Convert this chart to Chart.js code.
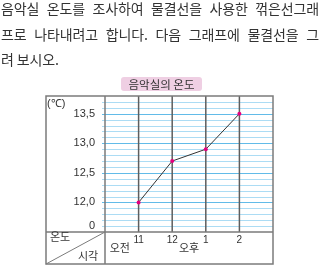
<!DOCTYPE html>
<html>
<head>
<meta charset="utf-8">
<script src="https://cdn.jsdelivr.net/npm/chart.js@4"></script>
<style>
html, body { margin: 0; padding: 0; background: #fff; width: 320px; height: 266px; overflow: hidden; }
#wrap { position: relative; width: 320px; height: 266px; }
canvas { position: absolute; left: 0; top: 0; }
.q { position: absolute; left: 1px; width: 318px; font-size: 14px; font-family: "Noto Sans CJK KR", sans-serif;
     color: #333; line-height: 17px; letter-spacing: -0.15px; }
.j { text-align: justify; text-align-last: justify; }
</style>
</head>
<body>
<div id="wrap">
  <canvas id="c" width="320" height="266"></canvas>
  <div class="q j" style="top:0px">음악실 온도를 조사하여 물결선을 사용한 꺾은선그래</div>
  <div class="q j" style="top:26px">프로 나타내려고 합니다. 다음 그래프에 물결선을 그</div>
  <div class="q" style="top:51px">려 보시오.</div>
</div>
<script>
// Hourly temperature of the music room
const times = ['11', '12', '1', '2'];
const periods = ['오전', '오후'];
const temps = [12.0, 12.7, 12.9, 13.5];
const yTickValues = [11.6, 12.0, 12.5, 13.0, 13.5];
const yTickLabels = ['0', '12,0', '12,5', '13,0', '13,5'];
const chartTitle = '음악실의 온도';
const unitLabel = '(℃)';
const rowHeader = ['온도', '시각'];

const yMin = 11.5, yMax = 13.8;
const majorBlue = '#62bbe8';
const minorBlue = '#acdcf4';
const frameGray = '#7b7b7b';
const columnGray = '#5e5e5e';

function labelFor(v) {
  const i = yTickValues.findIndex(t => Math.abs(t - v) < 1e-6);
  return i >= 0 ? yTickLabels[i] : '';
}

// Graph paper: 0.1° rules in blue, hour columns in gray on top
const paperPlugin = {
  id: 'paper',
  beforeDatasetsDraw(chart) {
    const { ctx, chartArea: a, scales: { x, y } } = chart;
    ctx.save();
    ctx.lineWidth = 1;
    y.ticks.forEach(t => {
      const v = t.value;
      if (v <= yMin + 1e-6 || v >= yMax - 1e-6) return;
      const r = Math.round(v * 10);
      ctx.strokeStyle = (r % 5 === 0 && v >= 12) ? majorBlue : minorBlue;
      const py = Math.round(y.getPixelForValue(v)) + 0.5;
      ctx.beginPath();
      ctx.moveTo(a.left - 3, py); ctx.lineTo(a.right, py);
      ctx.stroke();
    });
    ctx.strokeStyle = columnGray;
    ctx.lineWidth = 1.5;
    times.forEach((_, i) => {
      const px = x.getPixelForValue(i + 1);
      ctx.beginPath();
      ctx.moveTo(px, a.top); ctx.lineTo(px, a.bottom);
      ctx.stroke();
    });
    ctx.restore();
  }
};

// Table frame, header cells, title badge
const framePlugin = {
  id: 'frame',
  afterDraw(chart) {
    const { ctx, chartArea: a, scales: { x } } = chart;
    const L = 46, B = 264;
    ctx.save();
    ctx.strokeStyle = frameGray;
    ctx.lineWidth = 1.5;
    ctx.strokeRect(L, a.top, a.right - L, B - a.top);
    ctx.beginPath();
    ctx.moveTo(a.left, a.top); ctx.lineTo(a.left, B);
    ctx.moveTo(L, a.bottom); ctx.lineTo(a.right, a.bottom);
    ctx.stroke();
    ctx.lineWidth = 1;
    ctx.beginPath();
    ctx.moveTo(L, B); ctx.lineTo(a.left, a.bottom);
    ctx.stroke();

    ctx.fillStyle = '#333';
    ctx.textBaseline = 'middle';
    ctx.font = '11px "Noto Sans CJK KR"';
    ctx.textAlign = 'left';
    ctx.fillText(rowHeader[0], 50, 237);
    ctx.fillText(rowHeader[1], 78, 256);
    ctx.textAlign = 'center';
    ctx.fillText(periods[0], (a.left + x.getPixelForValue(1)) / 2 - 2, 248);
    ctx.fillText(periods[1], (x.getPixelForValue(2) + x.getPixelForValue(3)) / 2, 248);

    ctx.textAlign = 'left';
    ctx.font = '11px "Liberation Sans"';
    ctx.fillText(unitLabel, 47, 104);

    // title badge
    const cx = (a.left + a.right) / 2 - 27.5;
    ctx.fillStyle = '#efcfe3';
    ctx.beginPath();
    ctx.roundRect(cx - 40.5, 77, 81, 14, 3);
    ctx.fill();
    ctx.fillStyle = '#333';
    ctx.textAlign = 'center';
    ctx.font = '11.5px "Noto Sans CJK KR"';
    ctx.fillText(chartTitle, cx, 84.5);
    ctx.restore();
  }
};

new Chart(document.getElementById('c'), {
  type: 'line',
  data: {
    labels: ['', ...times, ''],
    datasets: [{
      data: [null, ...temps, null],
      borderColor: '#333',
      borderWidth: 1,
      pointRadius: 2,
      pointHoverRadius: 2,
      pointBackgroundColor: '#e5007f',
      pointBorderWidth: 0,
      tension: 0
    }]
  },
  options: {
    responsive: false,
    animation: false,
    devicePixelRatio: 1,
    layout: { padding: { left: 0, top: 96, right: 47, bottom: 0 } },
    plugins: { legend: { display: false }, tooltip: { enabled: false }, title: { display: false } },
    scales: {
      x: {
        type: 'category',
        offset: false,
        grid: { display: false, offset: false, drawTicks: false },
        border: { display: false },
        ticks: {
          autoSkip: false, maxRotation: 0, padding: 2,
          color: '#333',
          font: { family: '"Liberation Sans", Arial', size: 10 }
        },
        afterFit: s => { s.height = 34; }
      },
      y: {
        min: yMin, max: yMax,
        afterBuildTicks: s => {
          const t = [];
          for (let i = Math.round(yMin * 10); i <= Math.round(yMax * 10); i++) t.push({ value: i / 10 });
          s.ticks = t;
        },
        grid: { display: false, drawTicks: false },
        border: { display: false },
        ticks: {
          padding: 10,
          autoSkip: false,
          color: '#333',
          font: { family: '"Liberation Sans Narrow", "Liberation Sans"', size: 11 },
          callback: v => labelFor(v)
        },
        afterFit: s => { s.width = 105; }
      }
    }
  },
  plugins: [paperPlugin, framePlugin]
});
</script>
</body>
</html>
